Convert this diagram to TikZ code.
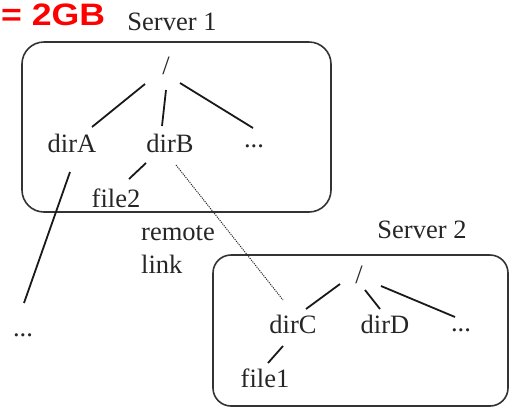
\documentclass[tikz,border=0pt]{standalone}
\usepackage{fontspec}
\setmainfont{Liberation Serif}
\newfontfamily\headfont{Liberation Sans}
\usetikzlibrary{calc}

\tikzset{
  lbl/.style={anchor=base, inner sep=0pt, text=black!85,
              font=\rmfamily\fontsize{26.5}{30}\selectfont},
  server/.style={draw=black!80, line width=1.6pt},
  edge/.style={draw=black!90, line width=1.8pt},
  remote/.style={draw=black!85, line width=1pt, dash pattern=on 1.1pt off 1.1pt},
}

\begin{document}
\begin{tikzpicture}[x=1pt, y=-1pt]
\useasboundingbox (0,0) rectangle (510,408);

% quota heading
\node[anchor=base west, inner sep=0pt, text=red,
      font=\headfont\bfseries\fontsize{31}{36}\selectfont] (quota) at (1,25.5)
      {\scalebox{1.15}[1]{= 2GB}};

% server frames
\draw[server, rounded corners=22pt] (22,42) rectangle (331,212);
\draw[server, rounded corners=18pt] (213,255) rectangle (508,406);

% server 1 tree
\node[lbl] (srv1)  at (172,30)  {Server 1};
\node[lbl] (root1) at (166,74)  {/};
\node[lbl] (dirA)  at (72,152)  {dirA};
\node[lbl] (dirB)  at (170,152) {dirB};
\node[lbl] (dots1) at (254,147) {...};
\node[lbl] (file2) at (116,207) {file2};
\node[lbl] (dots3) at (23,336)  {...};

% link label
\node[lbl, anchor=base west] (rem)  at (141,240) {remote};
\node[lbl, anchor=base west] (link) at (141,273) {link};

% server 2 tree
\node[lbl] (srv2)  at (422,238) {Server 2};
\node[lbl] (root2) at (359,283) {/};
\node[lbl] (dirC)  at (293,333) {dirC};
\node[lbl] (dirD)  at (385,333) {dirD};
\node[lbl] (dots2) at (461,331) {...};
\node[lbl] (file1) at (265,387) {file1};

% server 1 edges
\draw[edge] ($(root1.base)+(-21,10)$) -- ($(dirA.base)+(20,-25)$);
\draw[edge] ($(root1.base)+(0,16)$)   -- ($(dirB.base)+(-8,-26)$);
\draw[edge] ($(root1.base)+(14,9)$)   -- ($(dots1.base)+(-1,-19)$);
\draw[edge] ($(dirB.base)+(-24,11)$)  -- ($(file2.base)+(13,-28)$);
\draw[edge] ($(dirA.base)+(-2,20)$)   -- ($(dots3.base)+(1,-33)$);

% remote link
\draw[remote] ($(dirB.base)+(6,13)$) -- ($(dirC.base)+(-10,-33)$);

% server 2 edges
\draw[edge] ($(root2.base)+(-19,1)$) -- ($(dirC.base)+(13,-24)$);
\draw[edge] ($(root2.base)+(6,7)$)   -- ($(dirD.base)+(-5,-24)$);
\draw[edge] ($(root2.base)+(22,3)$)  -- ($(dots2.base)+(-6,-14)$);
\draw[edge] ($(dirC.base)+(-10,13)$) -- ($(file1.base)+(3,-24)$);
\end{tikzpicture}
\end{document}
